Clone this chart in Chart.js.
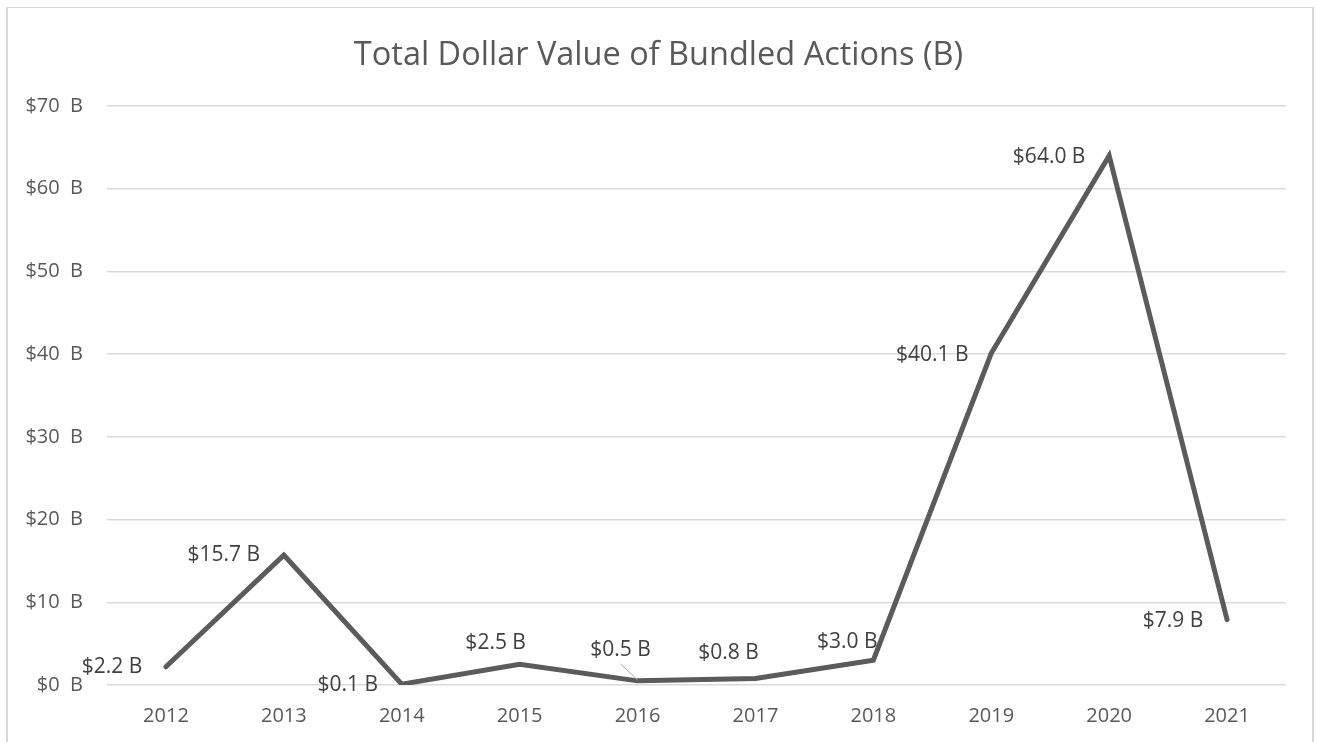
<!DOCTYPE html>
<html>
<head>
<meta charset="utf-8">
<script src="https://cdn.jsdelivr.net/npm/chart.js@4.4.1/dist/chart.umd.min.js"></script>
<style>
  html, body { margin: 0; padding: 0; background: #ffffff; }
  #wrap { position: relative; width: 1317px; height: 742px; overflow: hidden; }
  #frame { position: absolute; left: 6px; top: 7px; width: 1308px; height: 800px;
           border-left: 2px solid #d9d9d9; border-right: 2px solid #d9d9d9; border-top: 1.5px solid #d9d9d9; box-sizing: border-box; }
  canvas { position: absolute; left: 0; top: 0; }
</style>
</head>
<body>
<div id="wrap">
  <div id="frame"></div>
  <canvas id="c" width="1317" height="742"></canvas>
</div>
<script>
const categories = ['2012','2013','2014','2015','2016','2017','2018','2019','2020','2021'];
const values = [2.2, 15.7, 0.1, 2.5, 0.5, 0.8, 3.0, 40.1, 64.0, 7.9];
const valueLabels = ['$2.2 B','$15.7 B','$0.1 B','$2.5 B','$0.5 B','$0.8 B','$3.0 B','$40.1 B','$64.0 B','$7.9 B'];
const yTickLabels = ['$0  B','$10  B','$20  B','$30  B','$40  B','$50  B','$60  B','$70  B'];
const chartTitle = 'Total Dollar Value of Bundled Actions (B)';

// label placement relative to each point (layout, not data)
const labelOffsets = [[-54,0],[-60,0],[-54,1],[-24,-21],[-17,-31],[-27,-25],[-26,-18],[-59,2],[-60,1],[-54,1]];
const leaderLines = [false,false,false,false,true,false,false,false,false,false];

const FONT = "'Open Sans', 'Noto Sans', sans-serif";

const labelPlugin = {
  id: 'valueLabels',
  afterDatasetsDraw(chart) {
    const ctx = chart.ctx;
    const meta = chart.getDatasetMeta(0);
    ctx.save();
    ctx.font = "21px " + FONT;
    ctx.fillStyle = '#404040';
    ctx.textAlign = 'center';
    ctx.textBaseline = 'middle';
    meta.data.forEach((pt, i) => {
      const [dx, dy] = labelOffsets[i];
      const lx = pt.x + dx, ly = pt.y + dy;
      if (leaderLines[i]) {
        ctx.strokeStyle = '#a6a6a6';
        ctx.lineWidth = 1;
        ctx.beginPath();
        ctx.moveTo(lx, ly + 14);
        ctx.lineTo(pt.x, pt.y - 1);
        ctx.stroke();
      }
      ctx.fillText(valueLabels[i], lx, ly);
    });
    ctx.restore();
  }
};

new Chart(document.getElementById('c'), {
  type: 'line',
  data: {
    labels: categories,
    datasets: [{
      data: values,
      yAxisID: 'y',
      borderColor: '#5b5b5b',
      borderWidth: 5,
      borderCapStyle: 'round',
      borderJoinStyle: 'miter',
      pointRadius: 0,
      pointHoverRadius: 0,
      tension: 0,
      fill: false
    }]
  },
  options: {
    responsive: false,
    animation: false,
    devicePixelRatio: 1,
    layout: { padding: 0 },
    plugins: {
      legend: { display: false },
      tooltip: { enabled: false },
      title: {
        display: true,
        text: chartTitle,
        color: '#595959',
        font: { family: FONT, size: 32.5, weight: 'normal', lineHeight: 1.2 },
        padding: { top: 36, bottom: 31 }
      }
    },
    scales: {
      x: {
        offset: true,
        grid: { display: false, drawTicks: false },
        border: { display: false },
        ticks: { color: '#595959', font: { family: FONT, size: 20 }, padding: 19, maxRotation: 0 },
        afterFit(scale) { scale.height = 57; }
      },
      y: {
        min: 0, max: 70,
        grid: { color: '#d9d9d9', lineWidth: 1.5, drawTicks: false },
        border: { display: false },
        ticks: {
          stepSize: 10,
          color: '#595959',
          font: { family: FONT, size: 20 },
          padding: 24,
          callback: (v) => yTickLabels[Math.round(v / 10)]
        },
        afterFit(scale) { scale.width = 107; }
      },
      spacer: {
        position: 'right',
        min: 0, max: 70,
        grid: { display: false, drawTicks: false },
        border: { display: false },
        ticks: { display: false },
        afterFit(scale) { scale.width = 31; }
      }
    }
  },
  plugins: [labelPlugin]
});
</script>
</body>
</html>
